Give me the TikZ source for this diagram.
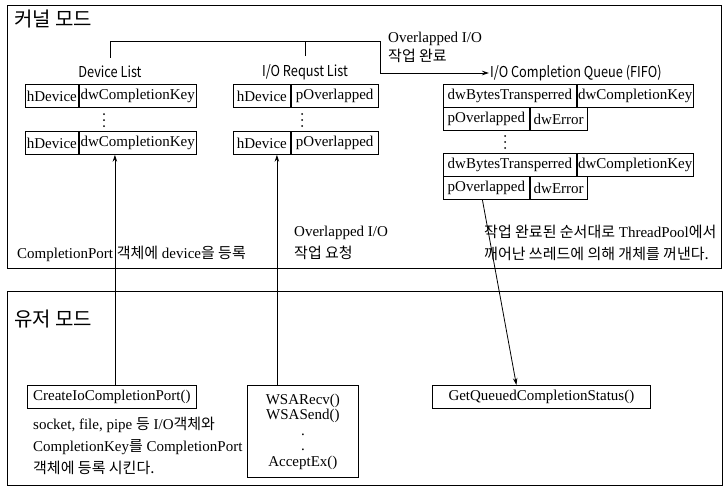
\documentclass[tikz,border=0pt]{standalone}
\usepackage{fontspec}
\setmainfont{Liberation Serif}
\newfontfamily\kr{Noto Sans CJK KR}
\newfontfamily\gsans[FakeStretch=0.85]{Noto Sans CJK KR}
\usetikzlibrary{arrows.meta}
\newcommand\K[1]{{\kr\fontsize{15}{22}\selectfont #1}}
\begin{document}
\begin{tikzpicture}[x=1pt,y=-1pt,
  region/.style={draw, line width=1.2pt, anchor=north west, inner sep=0pt},
  cell/.style={draw, line width=0.8pt, minimum height=23pt, inner sep=0pt, anchor=north west, font=\fontsize{15}{18}\selectfont},
  fbox/.style={draw, line width=0.8pt, inner sep=2pt, anchor=north west, font=\fontsize{15}{18}\selectfont},
  lbl/.style={font=\gsans\fontsize{15}{18}\selectfont, inner sep=0pt},
  title/.style={font=\kr\fontsize{20}{24}\selectfont, anchor=west, inner sep=0pt},
  txt/.style={font=\fontsize{15}{22}\selectfont, inner sep=0pt, anchor=west, align=left},
  dot/.style={fill=black},
  arr/.style={-{Stealth[length=7pt,width=4.5pt]}, line width=0.8pt},
  ln/.style={line width=0.8pt}]
\useasboundingbox (0,0) rectangle (726,490);
\fill[white] (0,0) rectangle (726,490);

% regions
\node[region, minimum width=714pt, minimum height=263pt] (kern) at (7,5) {};
\node[region, minimum width=715pt, minimum height=194pt] (user) at (7,291) {};
\node[title] (kt) at (14,19) {커널 모드};
\node[title] (ut) at (14,319) {유저 모드};

% Device list
\node[lbl] (dl) at (110,72) {Device List};
\node[cell, minimum width=53pt] (d1a) at (25,84) {hDevice};
\node[cell, minimum width=117pt] (d1b) at (d1a.north east) {dwCompletionKey};
\foreach \y in {114,120,126} \fill[dot] (104,\y) circle (1);
\node[cell, minimum width=53pt] (d2a) at (25,131) {hDevice};
\node[cell, minimum width=117pt] (d2b) at (d2a.north east) {dwCompletionKey};

% I/O request list
\node[lbl] (rl) at (305,72) {I/O Requst List};
\node[cell, minimum width=57pt] (r1a) at (233,84) {hDevice};
\node[cell, minimum width=87pt] (r1b) at (r1a.north east) {pOverlapped};
\foreach \y in {114,120,126} \fill[dot] (302,\y) circle (1);
\node[cell, minimum width=57pt] (r2a) at (233,131) {hDevice};
\node[cell, minimum width=87pt] (r2b) at (r2a.north east) {pOverlapped};

% completion queue
\node[lbl, anchor=west, inner sep=1pt] (ql) at (489,73) {I/O Completion Queue (FIFO)};
\node[cell, minimum width=133pt] (q1a) at (443,84) {dwBytesTransperred};
\node[cell, minimum width=116pt] (q1b) at (q1a.north east) {dwCompletionKey};
\node[cell, minimum width=86pt] (q2a) at (443,107) {pOverlapped};
\node[cell, minimum width=57pt] (q2b) at (q2a.north east) {dwError};
\foreach \y in {136,142,148} \fill[dot] (505,\y) circle (1);
\node[cell, minimum width=133pt] (q3a) at (443,153) {dwBytesTransperred};
\node[cell, minimum width=116pt] (q3b) at (q3a.north east) {dwCompletionKey};
\node[cell, minimum width=86pt] (q4a) at (443,176) {pOverlapped};
\node[cell, minimum width=57pt] (q4b) at (q4a.north east) {dwError};

% bracket
\coordinate (br) at (380,41);
\draw[arr] ([yshift=8pt]dl.north) |- (br) |- (ql.west);
\draw[ln] ([yshift=8pt]rl.north) -- (rl.north |- br);
\node[txt, font=\fontsize{15}{19}\selectfont] (ov1) at (388,47.5) {Overlapped I/O\\\K{작업 완료}};

% kernel texts
\node[txt] (cpt) at (17,254) {CompletionPort \K{객체에} device\K{을 등록}};
\node[txt] (ov2) at (294,243) {Overlapped I/O\\\K{작업 요청}};
\node[txt] (tp) at (484,243) {\K{작업 완료된 순서대로} ThreadPool\K{에서}\\\K{깨어난 쓰레드에 의해 개체를 꺼낸다.}};

% user mode boxes
\node[fbox, minimum width=169pt, minimum height=23pt] (create) at (27,385) {CreateIoCompletionPort()};
\node[txt] (sock) at (33,446) {socket, file, pipe \K{등} I/O\K{객체와}\\CompletionKey\K{를} CompletionPort\\\K{객체에 등록 시킨다.}};
\node[fbox, minimum width=111pt, minimum height=92pt, align=center, font=\fontsize{15}{15.5}\selectfont] (wsa) at (247,385) {WSARecv()\\WSASend()\\.\\.\\AcceptEx()};
\node[fbox, minimum width=218pt, minimum height=23pt] (gq) at (432,385) {GetQueuedCompletionStatus()};

% arrows
\draw[arr] ([xshift=3pt]create.north) -- ([xshift=3pt]create.north |- d2b.south);
\draw[arr] ([xshift=-26pt]wsa.north) -- ([xshift=-26pt]wsa.north |- r2a.south);
\draw[arr] ([xshift=-4pt]q4a.south) -- ([xshift=-25pt]gq.north);
\end{tikzpicture}
\end{document}
